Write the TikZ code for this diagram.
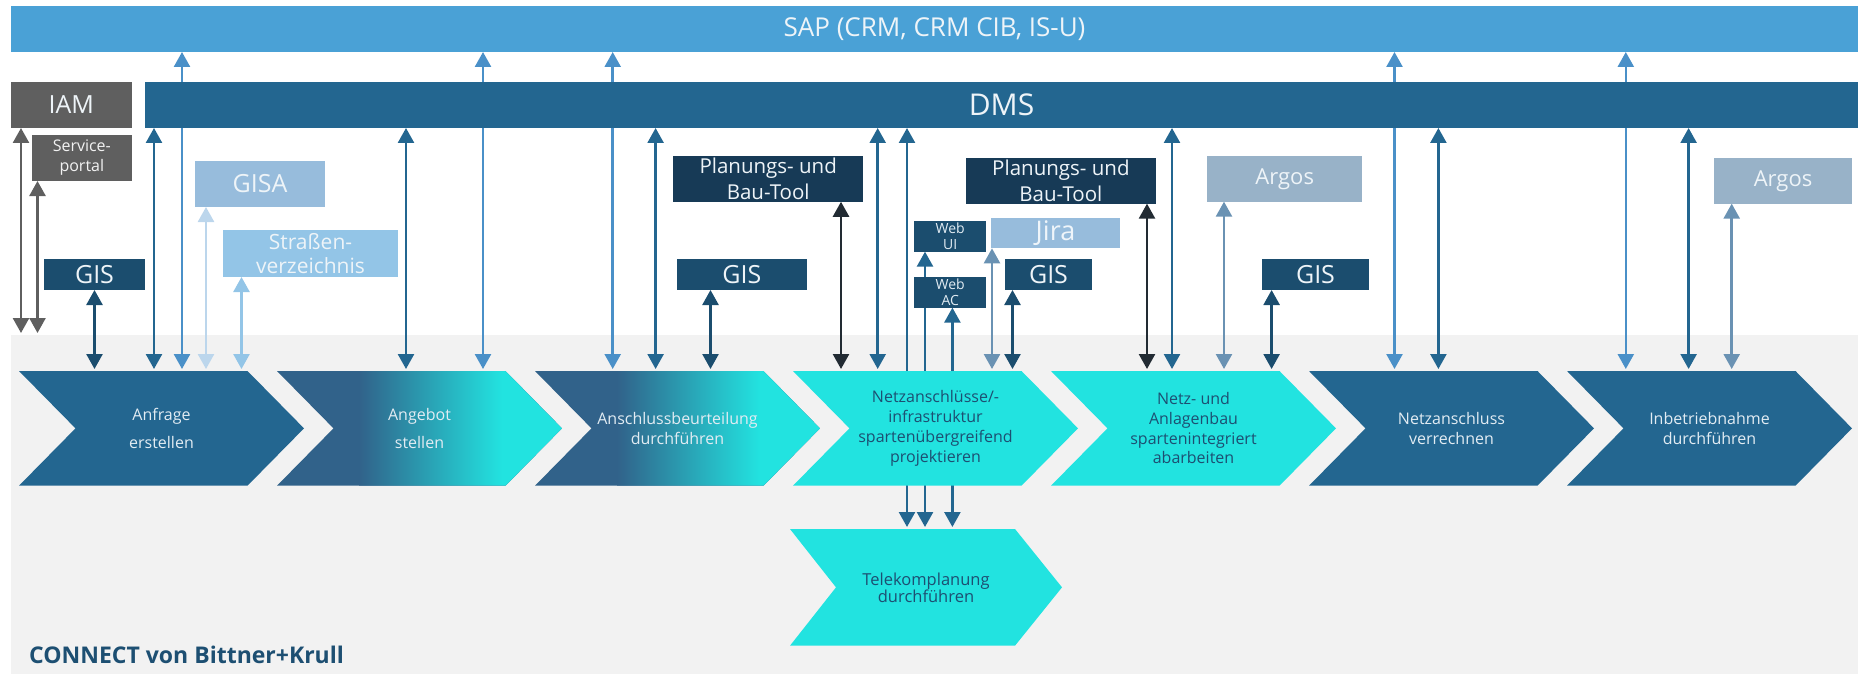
\documentclass[tikz,border=0pt]{standalone}
\usepackage{fontspec}
\setmainfont{Open Sans}
\usetikzlibrary{arrows.meta,calc}
\pgfdeclarelayer{bgl}
\pgfdeclarelayer{arrl}
\pgfdeclarelayer{shl}
\pgfsetlayers{bgl,arrl,shl,main}
\definecolor{sapc}{HTML}{4AA1D6}
\definecolor{dmsc}{HTML}{236690}
\definecolor{iamc}{HTML}{5F5F5F}
\definecolor{gisc}{HTML}{1B4D6E}
\definecolor{gisac}{HTML}{97BCDC}
\definecolor{strc}{HTML}{93C5E7}
\definecolor{pbtc}{HTML}{173A56}
\definecolor{argc}{HTML}{98B2C8}
\definecolor{bgc}{HTML}{F2F2F2}
\definecolor{cyc}{HTML}{22E3E0}
\definecolor{grdk}{HTML}{31628A}
\definecolor{lighttxt}{HTML}{E2ECF3}
\definecolor{boxtxt}{HTML}{EEF4F8}
\definecolor{darktxt}{HTML}{1D4F72}
\definecolor{asap}{HTML}{4A90C8}
\definecolor{agisa}{HTML}{BCD6EC}
\definecolor{astr}{HTML}{93C5E7}
\definecolor{apbt}{HTML}{222B33}
\definecolor{aarg}{HTML}{6A92B3}
\newcommand\setfs[2]{\fontsize{#1}{#2}\selectfont}
\tikzset{
  sbox/.style={inner sep=0pt, outer sep=0pt, align=center, text=boxtxt},
  chevtxt/.style={inner sep=0pt, outer sep=0pt, align=center, minimum width=285pt, minimum height=114.7pt},
  arr/.style={line width=2.5pt, shorten >=2pt, {Triangle[width=16pt,length=15pt]}-{Triangle[width=16pt,length=15pt]}},
}
\begin{document}
\begin{tikzpicture}[x=1pt,y=-1pt]
\useasboundingbox (0,0) rectangle (1858,674);
\begin{pgfonlayer}{bgl}
\fill[bgc] (11,335) rectangle (1858,674);
\end{pgfonlayer}
\coordinate (bgtop) at (0,335);
% systems
\node[sbox, fill=sapc, minimum width=1847pt, minimum height=46pt, font=\setfs{26}{30}] (sap) at (934.5,29) {SAP (CRM, CRM CIB, IS-U)};
\node[sbox, fill=dmsc, minimum width=1713pt, minimum height=46pt, font=\setfs{30}{34}] (dms) at (1001.5,105) {DMS};
\node[sbox, fill=iamc, minimum width=120.6pt, minimum height=46pt, font=\setfs{25}{30}] (iam) at (71.3,105) {IAM};
\node[sbox, fill=iamc, minimum width=99.6pt, minimum height=46pt, font=\setfs{16}{20}, text=white!90!gray] (sp) at (81.8,158) {Service-\\portal};
\node[sbox, fill=gisac, minimum width=130pt, minimum height=46pt, font=\setfs{25}{30}] (gisa) at (260,184) {GISA};
\node[sbox, fill=strc, minimum width=175pt, minimum height=47pt, font=\setfs{21}{24}] (str) at (310.5,253.5) {Straßen-\\verzeichnis};
\node[sbox, fill=gisc, minimum width=101pt, minimum height=31pt, font=\setfs{25}{30}] (gis1) at (94.5,274.5) {GIS};
\node[sbox, fill=pbtc, minimum width=190.5pt, minimum height=45.7pt, font=\setfs{20.5}{26}] (pbt1) at (768.2,178.9) {Planungs- und\\Bau-Tool};
\node[sbox, fill=gisc, minimum width=129.6pt, minimum height=31pt, font=\setfs{25}{30}] (gis2) at (741.8,274.5) {GIS};
\node[sbox, fill=gisc, minimum width=72.4pt, minimum height=30.7pt, font=\setfs{14}{16}, text=lighttxt] (webui) at (950.2,236.3) {Web\\UI};
\node[sbox, fill=gisc, minimum width=72.4pt, minimum height=30.7pt, font=\setfs{14}{16}, text=lighttxt] (webac) at (950.2,292.3) {Web\\AC};
\node[sbox, fill=gisac, minimum width=129.7pt, minimum height=30.3pt, font=\setfs{27}{30}, text=white!85!gisac] (jira) at (1055.5,233.2) {Jira};
\node[sbox, fill=pbtc, minimum width=190.2pt, minimum height=45.7pt, font=\setfs{20.5}{26}] (pbt2) at (1060.9,180.8) {Planungs- und\\Bau-Tool};
\node[sbox, fill=gisc, minimum width=87pt, minimum height=31pt, font=\setfs{25}{30}] (gis3) at (1048.5,274.5) {GIS};
\node[sbox, fill=argc, minimum width=155.5pt, minimum height=45.7pt, font=\setfs{22}{26}] (arg1) at (1284.7,178.8) {Argos};
\node[sbox, fill=gisc, minimum width=107pt, minimum height=31pt, font=\setfs{25}{30}] (gis4) at (1315.5,274.5) {GIS};
\node[sbox, fill=argc, minimum width=138pt, minimum height=45.7pt, font=\setfs{22}{26}] (arg2) at (1783,180.8) {Argos};
% process chevrons (text nodes)
\node[chevtxt, text=lighttxt, font=\setfs{16}{28}] (c1) at (161.5,428.35) {Anfrage\\erstellen};
\node[chevtxt, text=lighttxt, font=\setfs{16}{28}] (c2) at (419.5,428.35) {Angebot\\stellen};
\node[chevtxt, text=lighttxt, font=\setfs{16}{20}] (c3) at (677.5,428.35) {Anschlussbeurteilung\\durchführen};
\node[chevtxt, text=darktxt, font=\setfs{16}{19.7}] (c4) at (935.5,428.35) {Netzanschlüsse/-\\infrastruktur\\spartenübergreifend\\projektieren};
\node[chevtxt, text=darktxt, font=\setfs{16}{19.7}] (c5) at (1193.5,428.35) {Netz- und\\Anlagenbau\\spartenintegriert\\abarbeiten};
\node[chevtxt, text=lighttxt, font=\setfs{16}{20}] (c6) at (1451.5,428.35) {Netzanschluss\\verrechnen};
\node[chevtxt, text=lighttxt, font=\setfs{16}{20}] (c7) at (1709.5,428.35) {Inbetriebnahme\\durchführen};
\node[chevtxt, text=darktxt, font=\setfs{16.5}{17}, minimum width=272pt, minimum height=116.7pt] (tk) at (926,587.35) {Telekomplanung\\durchführen};
\node[anchor=base west, inner sep=0pt, font=\bfseries\setfs{23}{28}, text=darktxt] (brand) at (29,663) {CONNECT von Bittner+Krull};
% chevron shapes
\begin{pgfonlayer}{shl}
\foreach \c/\col in {c1/dmsc, c4/cyc, c5/cyc, c6/dmsc, c7/dmsc}{
  \fill[\col] (\c.north west) -- ([xshift=-56.5pt]\c.north east) -- (\c.east) -- ([xshift=-56.5pt]\c.south east) -- (\c.south west) -- ([xshift=56.5pt]\c.west) -- cycle;
}
\foreach \c in {c2, c3}{
  \begin{scope}
  \clip (\c.north west) -- ([xshift=-56.5pt]\c.north east) -- (\c.east) -- ([xshift=-56.5pt]\c.south east) -- (\c.south west) -- ([xshift=56.5pt]\c.west) -- cycle;
  \fill[grdk] (\c.north west) rectangle (\c.south east);
  \shade[left color=grdk, right color=cyc] ([xshift=82pt]\c.north west) rectangle ([xshift=225pt]\c.south west);
  \fill[cyc] ([xshift=225pt]\c.north west) rectangle (\c.south east);
  \end{scope}
}
\fill[cyc] (tk.north west) -- ([xshift=-47pt]tk.north east) -- (tk.east) -- ([xshift=-47pt]tk.south east) -- (tk.south west) -- ([xshift=46pt]tk.west) -- cycle;
\end{pgfonlayer}
% connector columns
\foreach \n/\x in {i1/21, i2/37.5, a1/154, a2/182, a3/206, a4/241.5, b1/406, b2/483, d1/612.7, d2/655.6, d3/710.5, e1/841, e2/877.7, e3/992, e4/1012.5, t1/907, t2/925, t3/952.4, f1/1147, f2/1172, f3/1224, f4/1271.6, g1/1394.5, g2/1438.4, h1/1625.8, h2/1688.6, h3/1731.7}{
  \coordinate (col\n) at (\x,0);
}
\begin{pgfonlayer}{arrl}
\draw[arr,iamc] (iam.south -| coli1) -- (bgtop -| coli1);
\draw[arr,iamc] (sp.south -| coli2) -- (bgtop -| coli2);
% Anfrage
\draw[arr,gisc] (gis1.south) -- (gis1.south |- c1.north);
\draw[arr,dmsc] (dms.south -| cola1) -- (c1.north -| cola1);
\draw[arr,asap] (sap.south -| cola2) -- (c1.north -| cola2);
\draw[arr,agisa] (gisa.south -| cola3) -- (c1.north -| cola3);
\draw[arr,astr] (str.south -| cola4) -- (c1.north -| cola4);
% Angebot
\draw[arr,dmsc] (dms.south -| colb1) -- (c2.north -| colb1);
\draw[arr,asap] (sap.south -| colb2) -- (c2.north -| colb2);
% Anschlussbeurteilung
\draw[arr,asap] (sap.south -| cold1) -- (c3.north -| cold1);
\draw[arr,dmsc] (dms.south -| cold2) -- (c3.north -| cold2);
\draw[arr,gisc] (gis2.south -| cold3) -- (c3.north -| cold3);
% Netzanschluesse projektieren
\draw[arr,apbt] (pbt1.south -| cole1) -- (c4.north -| cole1);
\draw[arr,dmsc] (dms.south -| cole2) -- (c4.north -| cole2);
\draw[arr,aarg] (jira.south -| cole3) -- (c4.north -| cole3);
\draw[arr,gisc] (gis3.south -| cole4) -- (c4.north -| cole4);
% Telekomplanung
\draw[arr,dmsc] (dms.south -| colt1) -- (tk.north -| colt1);
\draw[arr,dmsc] (webui.south -| colt2) -- (tk.north -| colt2);
\draw[arr,dmsc] (webac.south -| colt3) -- (tk.north -| colt3);
% Netz- und Anlagenbau
\draw[arr,apbt] (pbt2.south -| colf1) -- (c5.north -| colf1);
\draw[arr,dmsc] (dms.south -| colf2) -- (c5.north -| colf2);
\draw[arr,aarg] (arg1.south -| colf3) -- (c5.north -| colf3);
\draw[arr,gisc] (gis4.south -| colf4) -- (c5.north -| colf4);
% Netzanschluss verrechnen
\draw[arr,asap] (sap.south -| colg1) -- (c6.north -| colg1);
\draw[arr,dmsc] (dms.south -| colg2) -- (c6.north -| colg2);
% Inbetriebnahme
\draw[arr,asap] (sap.south -| colh1) -- (c7.north -| colh1);
\draw[arr,dmsc] (dms.south -| colh2) -- (c7.north -| colh2);
\draw[arr,aarg] (arg2.south -| colh3) -- (c7.north -| colh3);
\end{pgfonlayer}
\end{tikzpicture}
\end{document}
